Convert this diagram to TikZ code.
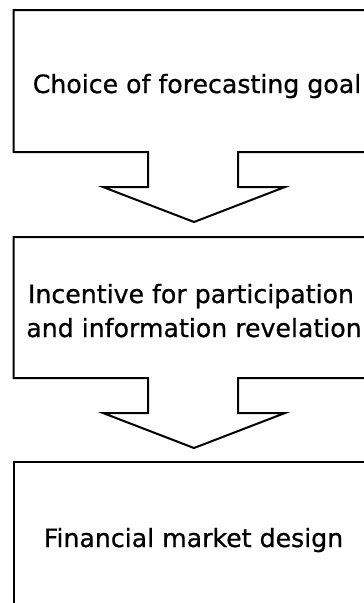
\documentclass[tikz,border=0pt]{standalone}
\usepackage{fontspec}
\setmainfont{DejaVu Sans}
\newfontfamily\labelfont{DejaVu Sans}[FakeBold=0.7]
\begin{document}
\begin{tikzpicture}[x=1pt,y=-1pt,
  outline/.style={draw=black,line width=2pt,line join=miter},
  label/.style={anchor=base,inner sep=0pt,font=\labelfont\fontsize{25.2}{34}\selectfont,align=center}]
  \useasboundingbox (0,0) rectangle (364,603);
  \clip (0,0) rectangle (364,603);
  % box with its block arrow below
  \draw[outline] (13.5,152) -- (13.5,10) -- (376,10) -- (376,152) -- (238,152)
    -- (238,187) -- (285,187) -- (194,222) -- (103,187) -- (148,187) -- (148,152) -- cycle;
  \draw[outline] (13.5,378) -- (13.5,237) -- (376,237) -- (376,378) -- (238,378)
    -- (238,413) -- (285,413) -- (194,448) -- (103,413) -- (148,413) -- (148,378) -- cycle;
  \draw[outline] (13.5,462) rectangle (376,614);
  \node[label] (goal) at (197,93) {Choice of forecasting goal};
  \node[label] (incentive) at (191,303) {Incentive for participation};
  \node[label] (revelation) at (194,337) {and information revelation};
  \node[label] (design) at (193.5,547) {Financial market design};
\end{tikzpicture}
\end{document}
